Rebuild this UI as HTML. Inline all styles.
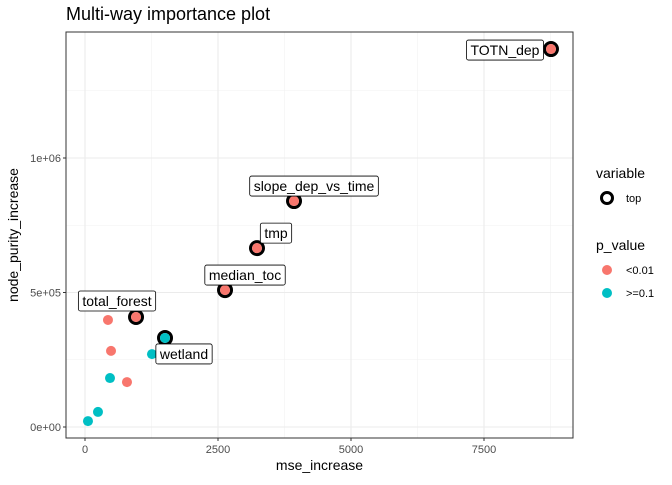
<!DOCTYPE html>
<html><head><meta charset="utf-8"><style>body{margin:0;background:#fff}svg{font-family:"Liberation Sans",sans-serif}</style></head>
<body>
<svg id="c" width="672" height="480"></svg>
<script>
const varNames=["TOTN_dep","slope_dep_vs_time","tmp","median_toc","total_forest","wetland","p1","p2","p3","p4","p5","p6","p7"];
const mse=[8759,3929,3233,2632,959,1504,432,489,789,1259,470,244,56];
const purity=[1405000,840000,665000,509000,409000,331000,398000,283000,167000,271000,182000,56000,22000];
const sig=[1,1,1,1,1,0,1,1,1,0,0,0,0];
const isTop=[1,1,1,1,1,1,0,0,0,0,0,0,0];
const xTicks=[0,2500,5000,7500];
const xTickLabels=["0","2500","5000","7500"];
const yTicks=[0,500000,1000000];
const yTickLabels=["0e+00","5e+05","1e+06"];
const L=66,R=573,T=32,B=438;
const X=v=>85+v*133/2500, Y=v=>427-v*134.5/5e5;
const s=document.getElementById('c');const NS="http://www.w3.org/2000/svg";
function el(t,a,p){const e=document.createElementNS(NS,t);for(const k in a)e.setAttribute(k,a[k]);(p||s).appendChild(e);return e;}
let e;
e=el('text',{x:66,y:20,'font-size':18,fill:'#000'});e.textContent="Multi-way importance plot";


[1250,3750,6250,8750].forEach(v=>{if(X(v)<R){e=el('line',{x1:X(v),x2:X(v),y1:T,y2:B,stroke:'#f2f2f2','stroke-width':0.6});

}});
[250000,750000,1250000].forEach(v=>{e=el('line',{x1:L,x2:R,y1:Y(v),y2:Y(v),stroke:'#f2f2f2','stroke-width':0.6});

});
xTicks.forEach((v,i)=>{e=el('line',{x1:X(v),x2:X(v),y1:T,y2:B,stroke:'#ebebeb','stroke-width':1.1});


e=el('line',{x1:X(v),x2:X(v),y1:B,y2:B+3,stroke:'#333'});


e=el('text',{x:X(v),y:B+15,'font-size':11,fill:'#4d4d4d','text-anchor':'middle'});e.textContent=xTickLabels[i];

});
yTicks.forEach((v,i)=>{e=el('line',{x1:L,x2:R,y1:Y(v),y2:Y(v),stroke:'#ebebeb','stroke-width':1.1});


e=el('line',{x1:L-3,x2:L,y1:Y(v),y2:Y(v),stroke:'#333'});


e=el('text',{x:L-5,y:Y(v)+4,'font-size':11,fill:'#4d4d4d','text-anchor':'end'});e.textContent=yTickLabels[i];

});
e=el('rect',{x:L,y:T,width:R-L,height:B-T,fill:'none',stroke:'#333','stroke-width':1});


e=el('text',{x:(L+R)/2,y:470,'font-size':14,'text-anchor':'middle'});e.textContent="mse_increase";


e=el('text',{x:0,y:0,'font-size':14,'text-anchor':'middle',transform:`translate(18,${(T+B)/2}) rotate(-90)`});e.textContent="node_purity_increase";


for(let i=mse.length-1;i>=0;i--){
 const col=sig[i]?'#f8766d':'#00bfc4';
 if(isTop[i]){e=el('circle',{cx:X(mse[i]),cy:Y(purity[i]),r:6.5,fill:'none',stroke:'#000','stroke-width':3});
 
 }
 e=el('circle',{cx:X(mse[i]),cy:Y(purity[i]),r:5,fill:col});
 
 
}
const lblDx=[-46,20,19,20,-19,19], lblDy=[1,-15,-15,-15,-16,16];
for(let i=0;i<6;i++){
 const cx=X(mse[i])+lblDx[i], cy=Y(purity[i])+lblDy[i];
 const g=el('g',{});
 
 
 const t=el('text',{x:cx,y:cy+5,'font-size':14,'text-anchor':'middle'},g);t.textContent=varNames[i];
 const w=t.getComputedTextLength()+8;
 const r=el('rect',{x:cx-w/2,y:cy-10,width:w,height:20,rx:2,fill:'#fff',stroke:'#000','stroke-width':0.8});
 g.insertBefore(r,t);
}
e=el('text',{x:596,y:178,'font-size':14});e.textContent="variable";


e=el('circle',{cx:607,cy:198,r:5.5,fill:'none',stroke:'#000','stroke-width':3});


e=el('text',{x:626,y:202,'font-size':11});e.textContent="top";


e=el('text',{x:596,y:250,'font-size':14});e.textContent="p_value";


[["<0.01",'#f8766d',270],[">=0.1",'#00bfc4',293]].forEach(([l,c,y])=>{
 e=el('circle',{cx:607,cy:y,r:5,fill:c});
 
 
 e=el('text',{x:626,y:y+4,'font-size':11});e.textContent=l;
 
 
});
</script>
</body></html>
